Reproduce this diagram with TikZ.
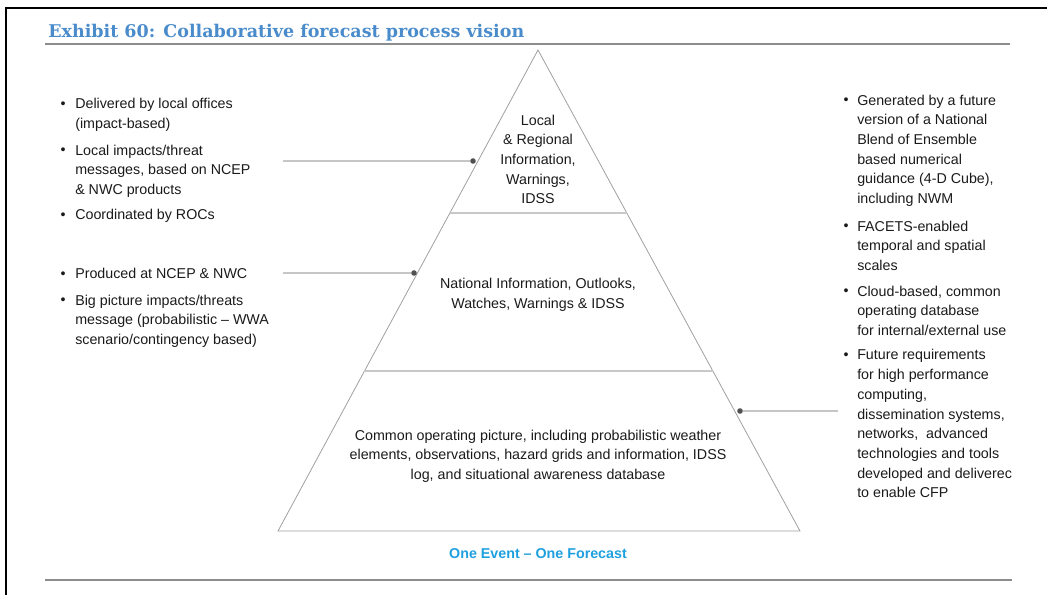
\documentclass[tikz,border=0pt]{standalone}
\usepackage{fontspec}
\usepackage{graphicx}
\setmainfont{Liberation Sans}
\newfontfamily\titlefont{DejaVu Serif}
\usetikzlibrary{calc}
\definecolor{titleblue}{HTML}{4A8CCB}
\definecolor{evblue}{HTML}{1FA0DE}
\definecolor{txtc}{HTML}{1A1A1A}
\definecolor{connc}{HTML}{C6C6C6}
\definecolor{dotc}{HTML}{505050}
\definecolor{pyrc}{HTML}{A0A0A0}
\definecolor{divc}{HTML}{C8C8C8}
\definecolor{rulec}{HTML}{8C8C8C}
\begin{document}
\begin{tikzpicture}[x=0.75pt,y=-0.75pt,
  bodyfont/.style={font=\fontsize{10.7}{14.8}\selectfont, text=txtc},
  txt/.style={bodyfont, inner sep=0pt, align=left, anchor=base west},
  bul/.style={bodyfont, inner sep=0pt, anchor=base},
  ctr/.style={bodyfont, inner sep=0pt, align=center, anchor=base},
  conn/.style={draw=connc, line width=1.5pt},
  dot/.style={circle, fill=dotc, inner sep=0pt, minimum size=4.2pt},
  pedge/.style={draw=pyrc, line width=0.6pt},
  divider/.style={draw=divc, line width=1pt},
  rule/.style={draw=rulec, line width=1.8pt}]
\useasboundingbox (0,0) rectangle (1047,595);
% frame
\draw[line width=1.6pt, black] (6,595) -- (6,7.8) -- (1047,7.8);
% title
\node[anchor=base west, inner sep=0pt, text=titleblue] (title) at (48,38)
  {\resizebox{357pt}{!}{\titlefont\bfseries Exhibit 60: Collaborative forecast process vision}};
\draw[rule] (45,44) -- (1010,44);
\draw[rule] (45,580) -- (1012,580);
% pyramid
\coordinate (apex) at (538,50);
\coordinate (bl) at (278,531);
\coordinate (br) at (800,531);
\draw[pedge] (bl) -- (apex) -- (br) -- cycle;
\draw[divider] ($(apex)!0.3389!(bl)$) -- ($(apex)!0.3389!(br)$);
\draw[divider] ($(apex)!0.6674!(bl)$) -- ($(apex)!0.6674!(br)$);
% (multi-line nodes: base anchor = baseline of last line)
\node[ctr] (ptop) at (538,204) {Local\\\& Regional\\Information,\\Warnings,\\IDSS};
\node[ctr] (pmid) at (538,308.7) {National Information, Outlooks,\\Watches, Warnings \& IDSS};
\node[ctr] (pbot) at (538,479.5) {Common operating picture, including probabilistic weather\\elements, observations, hazard grids and information, IDSS\\log, and situational awareness database};
\node[anchor=base, inner sep=0pt, text=evblue, font=\fontsize{10.7}{14.8}\selectfont\bfseries] (motto) at (538,558) {One Event – One Forecast};
% left column
\node[bul] (b1) at (63,109) {•};
\node[txt] (l1) at (75,128.7) {Delivered by local offices\\(impact-based)};
\node[bul] (b2) at (63,155) {•};
\node[txt] (l2) at (75,194.5) {Local impacts/threat\\messages, based on NCEP\\\& NWC products};
\node[bul] (b3) at (63,220) {•};
\node[txt] (l3) at (75,220) {Coordinated by ROCs};
\node[bul] (b4) at (63,279) {•};
\node[txt] (l4) at (75,279) {Produced at NCEP \& NWC};
\node[bul] (b5) at (63,305) {•};
\node[txt] (l5) at (75,344.5) {Big picture impacts/threats\\message (probabilistic – WWA\\scenario/contingency based)};
% right column
\node[bul] (rb1) at (846,105) {•};
\node[txt] (r1) at (857,203.7) {Generated by a future\\version of a National\\Blend of Ensemble\\based numerical\\guidance (4-D Cube),\\including NWM};
\node[bul] (rb2) at (846,231) {•};
\node[txt] (r2) at (857,270.5) {FACETS-enabled\\temporal and spatial\\scales};
\node[bul] (rb3) at (846,296) {•};
\node[txt] (r3) at (857,335.5) {Cloud-based, common\\operating database\\for internal/external use};
\node[bul] (rb4) at (846,360) {•};
\node[txt] (r4) at (857,498) {Future requirements\\for high performance\\computing,\\dissemination systems,\\networks,\ \ advanced\\technologies and tools\\developed and deliverec\\to enable CFP};
% connectors
\coordinate (c1) at (283,161);
\node[dot] (d1) at (473,161) {};
\draw[conn] (c1) -- (d1);
\coordinate (c2) at (283,273);
\node[dot] (d2) at (414,273) {};
\draw[conn] (c2) -- (d2);
\node[dot] (d3) at (740,411) {};
\coordinate (c3) at (838,411);
\draw[conn] (d3) -- (c3);
\end{tikzpicture}
\end{document}
